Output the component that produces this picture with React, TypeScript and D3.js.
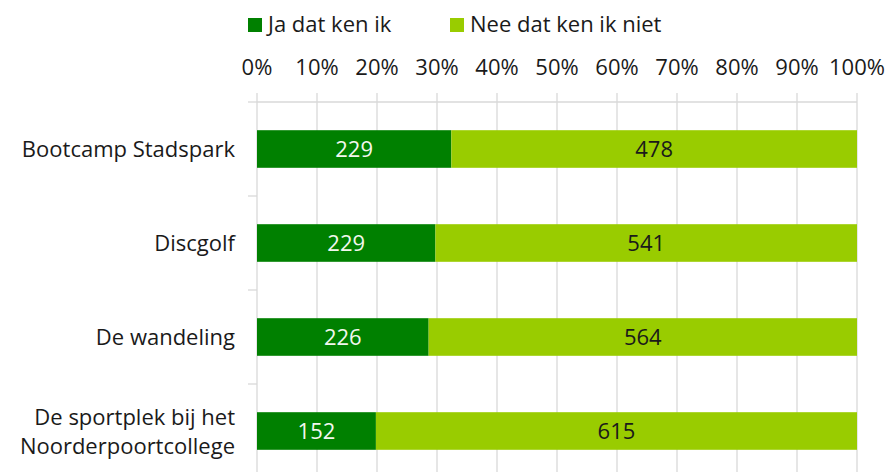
import React, { useEffect, useRef } from "react";
import * as d3 from "d3";

const categories = [
  "Bootcamp Stadspark",
  "Discgolf",
  "De wandeling",
  "De sportplek bij het\nNoorderpoortcollege",
];
const jaValues = [229, 229, 226, 152];
const neeValues = [478, 541, 564, 615];
const seriesNames = ["Ja dat ken ik", "Nee dat ken ik niet"];
const seriesColors = ["#008000", "#99cc00"];
const tickValues = [0, 0.1, 0.2, 0.3, 0.4, 0.5, 0.6, 0.7, 0.8, 0.9, 1];

const W = 888;
const H = 472;
const FONT = "'Open Sans', 'Noto Sans', sans-serif";
const FS = 22;

export default function App() {
  const svgRef = useRef<SVGSVGElement>(null);

  useEffect(() => {
    const svg = d3.select(svgRef.current);
    svg.selectAll("*").remove();

    const left = 257, right = 857, top = 102;
    const bandH = 94;
    const x = d3.scaleLinear().domain([0, 1]).range([left, right]);
    const y = d3.scaleBand<string>()
      .domain(categories)
      .range([top, top + bandH * categories.length])
      .paddingInner(0.6)
      .paddingOuter(0.3);

    const rows = categories.map((c, i) => {
      const total = jaValues[i] + neeValues[i];
      return { c, ja: jaValues[i], nee: neeValues[i], pj: jaValues[i] / total };
    });

    // gridlines
    svg.append("g")
      .selectAll("line")
      .data(tickValues)
      .join("line")
      .attr("x1", d => x(d)).attr("x2", d => x(d))
      .attr("y1", top - 9).attr("y2", H)
      .attr("stroke", "#d9d9d9").attr("stroke-width", 1.3);

    // top axis line
    svg.append("line")
      .attr("x1", x(0)).attr("x2", x(1))
      .attr("y1", top).attr("y2", top)
      .attr("stroke", "#d9d9d9").attr("stroke-width", 1.3);

    // category separators on left axis
    const step = y.step();
    svg.append("g")
      .selectAll("line")
      .data(d3.range(categories.length + 1))
      .join("line")
      .attr("x1", x(0) - 9).attr("x2", x(0))
      .attr("y1", i => top + i * step).attr("y2", i => top + i * step)
      .attr("stroke", "#d9d9d9").attr("stroke-width", 1.3);

    // tick labels
    svg.append("g")
      .selectAll("text")
      .data(tickValues)
      .join("text")
      .attr("x", d => x(d))
      .attr("y", 75)
      .attr("text-anchor", "middle")
      .attr("font-family", FONT)
      .attr("font-size", FS)
      .attr("fill", "#1a1a1a")
      .text(d => d3.format(".0%")(d));

    // bars
    const g = svg.append("g");
    g.selectAll("rect.ja")
      .data(rows)
      .join("rect")
      .attr("class", "ja")
      .attr("x", x(0))
      .attr("y", d => y(d.c)!)
      .attr("width", d => x(d.pj) - x(0))
      .attr("height", y.bandwidth())
      .attr("fill", seriesColors[0]);
    g.selectAll("rect.nee")
      .data(rows)
      .join("rect")
      .attr("class", "nee")
      .attr("x", d => x(d.pj))
      .attr("y", d => y(d.c)!)
      .attr("width", d => x(1) - x(d.pj))
      .attr("height", y.bandwidth())
      .attr("fill", seriesColors[1]);

    // value labels
    g.selectAll("text.ja")
      .data(rows)
      .join("text")
      .attr("class", "ja")
      .attr("x", d => (x(0) + x(d.pj)) / 2)
      .attr("y", d => y(d.c)! + y.bandwidth() / 2 + 8)
      .attr("text-anchor", "middle")
      .attr("font-family", FONT)
      .attr("font-size", FS)
      .attr("fill", "#f2f7ee")
      .text(d => d.ja);
    g.selectAll("text.nee")
      .data(rows)
      .join("text")
      .attr("class", "nee")
      .attr("x", d => (x(d.pj) + x(1)) / 2)
      .attr("y", d => y(d.c)! + y.bandwidth() / 2 + 8)
      .attr("text-anchor", "middle")
      .attr("font-family", FONT)
      .attr("font-size", FS)
      .attr("fill", "#1a1a1a")
      .text(d => d.nee);

    // category labels
    const lab = svg.append("g")
      .selectAll("text")
      .data(rows)
      .join("text")
      .attr("text-anchor", "end")
      .attr("font-family", FONT)
      .attr("font-size", FS)
      .attr("fill", "#1a1a1a");
    lab.each(function (d) {
      const lines = d.c.split("\n");
      const cy = y(d.c)! + y.bandwidth() / 2;
      const lh = 29;
      const t = d3.select(this);
      lines.forEach((ln, k) => {
        t.append("tspan")
          .attr("x", 235)
          .attr("y", cy + 8 + (k - (lines.length - 1) / 2) * lh)
          .text(ln);
      });
    });

    // legend
    const legX = [248, 450];
    const leg = svg.append("g")
      .selectAll("g")
      .data(seriesNames)
      .join("g")
      .attr("transform", (_, i) => `translate(${legX[i]},0)`);
    leg.append("rect")
      .attr("x", 0).attr("y", 18)
      .attr("width", 14).attr("height", 14)
      .attr("fill", (_, i) => seriesColors[i]);
    leg.append("text")
      .attr("x", 20).attr("y", 32)
      .attr("font-family", FONT)
      .attr("font-size", FS)
      .attr("fill", "#1a1a1a")
      .text(d => d);
  }, []);

  return (
    <svg
      ref={svgRef}
      width={W}
      height={H}
      style={{ position: "absolute", left: 0, top: 0, background: "white" }}
    />
  );
}
